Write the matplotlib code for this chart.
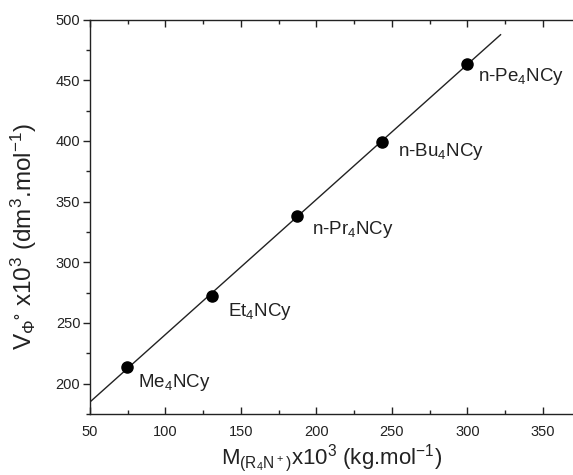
# -*- coding: utf-8 -*-
"""
Volume molaire apparent en fonction de la masse molaire du cation
"""

import numpy as np
import matplotlib.pyplot as plt

plt.rcParams['font.family'] = ['Liberation Sans', 'DejaVu Sans']
plt.rcParams['mathtext.default'] = 'regular'

# données
masses = [74.3, 130.6, 186.9, 243.2, 299.5]
volumes = [213.5, 272.0, 338.2, 399.2, 463.0]
noms = ['Me$_4$NCy', 'Et$_4$NCy', 'n-Pr$_4$NCy', 'n-Bu$_4$NCy', 'n-Pe$_4$NCy']
fit_range = [50, 322]

# décalage des étiquettes (points)
decalages = [(8, -11), (12, -11), (11, -10), (12, -7), (8, -9)]

fig = plt.figure(figsize=(5.73, 4.75), dpi=100)
ax = fig.add_axes([90 / 573, 61 / 475, 483 / 573, 394.5 / 475])

pente, origine = np.polyfit(masses, volumes, 1)
xf = np.array(fit_range)
ax.plot(xf, pente * xf + origine, '-', color='#222222', lw=1.0)
ax.plot(masses, volumes, 'o', color='black', ms=8)

for x, y, nom, d in zip(masses, volumes, noms, decalages):
    ax.annotate(nom, (x, y), xytext=d, textcoords='offset points',
                ha='left', va='center', fontsize=13.5, color='#222222')

ax.set_xlim(50, 370)
ax.set_ylim(175, 500)
ax.set_xticks(np.arange(50, 351, 50))
ax.set_xticks(np.arange(75, 370, 50), minor=True)
ax.set_yticks(np.arange(200, 501, 50))
ax.set_yticks(np.arange(175, 500, 50), minor=True)

ax.spines['right'].set_visible(False)
for s in ['left', 'bottom', 'top']:
    ax.spines[s].set_linewidth(1.0)
    ax.spines[s].set_color('#222222')

ax.tick_params(axis='y', which='both', direction='out', colors='#222222',
               labelsize=10.5, width=1.0, pad=2)
ax.tick_params(axis='y', which='major', length=5)
ax.tick_params(axis='y', which='minor', length=3)
ax.tick_params(axis='x', which='both', direction='in', top=True,
               colors='#222222', labelsize=10.5, width=1.0, pad=8)
ax.tick_params(axis='x', which='major', length=5)
ax.tick_params(axis='x', which='minor', length=3)

ax.set_xlabel('M$_{(R_4N^+)}$x10$^3$ (kg.mol$^{-1}$)', fontsize=16,
              color='#222222', labelpad=2)
ax.set_ylabel('V$_{\\Phi}$$^{\\circ}$ x10$^3$ (dm$^3$.mol$^{-1}$)', fontsize=17.5,
              color='#222222')
ax.yaxis.set_label_coords(-0.105, 0.45)

plt.savefig('out.png', dpi=100)
